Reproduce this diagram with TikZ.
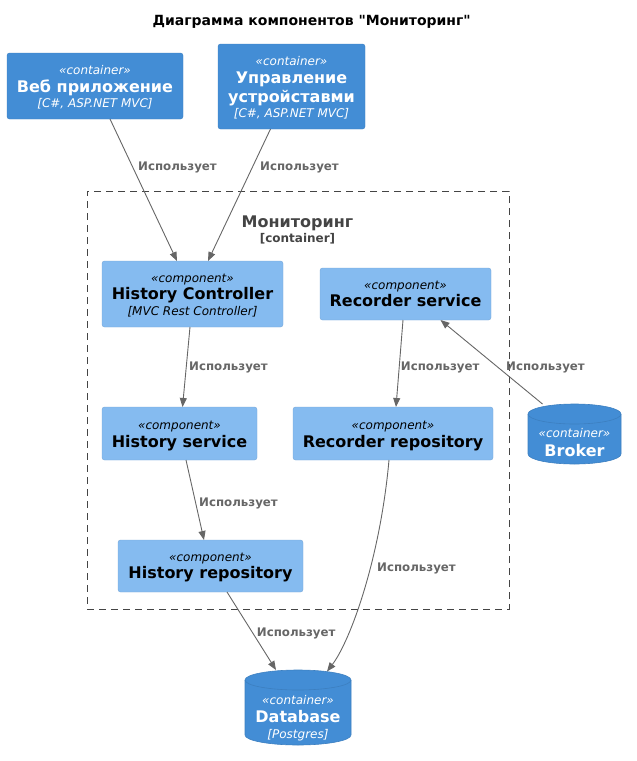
\documentclass[tikz,border=0pt]{standalone}
\usepackage{fontspec}
\setmainfont{DejaVu Sans}
\newfontfamily\plainsans{DejaVu Sans}
\usetikzlibrary{arrows.meta,calc}
\definecolor{contfill}{HTML}{438DD5}
\definecolor{contline}{HTML}{3C7FC0}
\definecolor{compfill}{HTML}{85BBF0}
\definecolor{compline}{HTML}{78A8D8}
\definecolor{arrowcol}{HTML}{666666}
\definecolor{bndcol}{HTML}{444444}
\begin{document}
\begin{tikzpicture}[x=1pt,y=1pt,
  container/.style={draw=contline, fill=contfill, rounded corners=2.5pt, inner sep=0pt, outer sep=0pt},
  component/.style={draw=compline, fill=compfill, rounded corners=2.5pt, inner sep=0pt, outer sep=0pt},
  cylbody/.style={inner sep=0pt, outer sep=0pt},
  stereo/.style={font=\fontsize{12}{14}\selectfont\itshape, inner sep=0pt, anchor=base},
  ttl/.style={font=\fontsize{16}{19}\selectfont\bfseries, inner sep=0pt, anchor=base},
  tech/.style={font=\fontsize{12}{14}\selectfont\itshape, inner sep=0pt, anchor=base},
  wt/.style={text=white},
  lbl/.style={font=\fontsize{11.8}{13}\selectfont\bfseries, text=arrowcol, inner sep=0pt, anchor=base west},
  rel/.style={draw=arrowcol, line width=0.9pt, -{Triangle[length=9pt,width=7pt]}}
]
\useasboundingbox (0,0) rectangle (637,-761);

% title
\node[font=\plainsans\fontsize{14}{16}\selectfont\bfseries, inner sep=0pt, anchor=base] (title) at (311.7,-25) {Диаграмма компонентов "Мониторинг"};

% boundary
\node[draw=bndcol, dash pattern=on 7pt off 5pt, line width=0.8pt, minimum width=422pt, minimum height=418pt, inner sep=0pt, outer sep=0pt] (bnd) at (298,-400) {};
\node[font=\fontsize{16}{18}\selectfont\bfseries, text=bndcol, inner sep=0pt, anchor=base] (bndname) at (297.5,-227.5) {Мониторинг};
\node[font=\fontsize{12}{14}\selectfont\bfseries, text=bndcol, inner sep=0pt, anchor=base] (bndtype) at (297.5,-242) {[container]};

% containers
\node[container, minimum width=176pt, minimum height=66pt] (web) at (95,-86) {};
\node[stereo, wt] (webs) at (95,-74) {«container»};
\node[ttl, wt] (webt) at (95,-92.2) {Веб приложение};
\node[tech, wt] (webx) at (95,-107) {[C\#, ASP.NET MVC]};

\node[container, minimum width=147pt, minimum height=85pt] (upr) at (291.5,-86.5) {};
\node[stereo, wt] (uprs) at (291.5,-65) {«container»};
\node[ttl, wt] (uprt1) at (291.5,-83.2) {Управление};
\node[ttl, wt] (uprt2) at (291.5,-102.2) {устройставми};
\node[tech, wt] (uprx) at (291.5,-117) {[C\#, ASP.NET MVC]};

% components
\node[component, minimum width=181pt, minimum height=66pt] (hc) at (192.5,-294) {};
\node[stereo] (hcs) at (192.5,-282) {«component»};
\node[ttl] (hct) at (192.5,-299.8) {History Controller};
\node[tech] (hcx) at (192.5,-315) {[MVC Rest Controller]};

\node[component, minimum width=171pt, minimum height=52pt] (rs) at (405.5,-294) {};
\node[stereo] (rss) at (405.5,-289.3) {«component»};
\node[ttl] (rst) at (405.5,-306.8) {Recorder service};

\node[component, minimum width=155pt, minimum height=53pt] (hs) at (179.5,-433.5) {};
\node[stereo] (hss) at (179.5,-429) {«component»};
\node[ttl] (hst) at (179.5,-447.2) {History service};

\node[component, minimum width=200pt, minimum height=53pt] (rr) at (393,-433.5) {};
\node[stereo] (rrs) at (393,-429) {«component»};
\node[ttl] (rrt) at (393,-447.2) {Recorder repository};

\node[component, minimum width=185pt, minimum height=52pt] (hr) at (210.5,-566) {};
\node[stereo] (hrs) at (210.5,-561.3) {«component»};
\node[ttl] (hrt) at (210.5,-578.8) {History repository};

% Broker cylinder
\node[cylbody, minimum width=93pt, minimum height=60pt] (broker) at (574.5,-434) {};
\path[fill=contfill, draw=contline, line width=0.6pt]
  ([yshift=-10pt]broker.north west) -- ([yshift=10pt]broker.south west)
  arc[start angle=180, end angle=360, x radius=46.5pt, y radius=10pt]
  -- ([yshift=-10pt]broker.north east)
  arc[start angle=0, end angle=180, x radius=46.5pt, y radius=10pt] -- cycle;
\draw[contline, line width=0.6pt] ([yshift=-10pt]broker.north west)
  arc[start angle=180, end angle=360, x radius=46.5pt, y radius=10pt];
\node[stereo, wt] (brs) at (574.5,-437) {«container»};
\node[ttl, wt] (brt) at (574.5,-456.5) {Broker};

% Database cylinder
\node[cylbody, minimum width=106pt, minimum height=75pt] (db) at (298,-707.5) {};
\path[fill=contfill, draw=contline, line width=0.6pt]
  ([yshift=-10pt]db.north west) -- ([yshift=10pt]db.south west)
  arc[start angle=180, end angle=360, x radius=53pt, y radius=10pt]
  -- ([yshift=-10pt]db.north east)
  arc[start angle=0, end angle=180, x radius=53pt, y radius=10pt] -- cycle;
\draw[contline, line width=0.6pt] ([yshift=-10pt]db.north west)
  arc[start angle=180, end angle=360, x radius=53pt, y radius=10pt];
\node[stereo, wt] (dbs) at (298,-704) {«container»};
\node[ttl, wt] (dbt) at (298,-722.5) {Database};
\node[tech, wt] (dbx) at (298,-738.3) {[Postgres]};

% relations
\draw[rel] ([xshift=15pt]web.south) -- ([xshift=-15.5pt]hc.north);
\node[lbl] (l1) at (138,-170.2) {Использует};
\draw[rel] ([xshift=-21pt]upr.south) -- ([xshift=15.5pt]hc.north);
\node[lbl] (l2) at (260,-170.2) {Использует};
\draw[rel] ([xshift=-2.5pt]hc.south) -- ([xshift=3pt]hs.north);
\node[lbl] (l3) at (189,-370) {Использует};
\draw[rel] ([xshift=6.5pt]hs.south) -- ([xshift=-6.5pt]hr.north);
\node[lbl] (l4) at (199,-506.5) {Использует};
\draw[rel] ([xshift=-2.5pt]rs.south) -- ([xshift=3pt]rr.north);
\node[lbl] (l5) at (400.7,-370) {Использует};
\draw[rel] ([xshift=-32pt]broker.north) -- ([xshift=35pt]rs.south);
\node[lbl] (l6) at (506,-370) {Использует};
\draw[rel] ([xshift=-4pt]rr.south) .. controls +(-9,-100) and +(23,30) .. ([xshift=29pt,yshift=-1.5pt]db.north);
\node[lbl] (l7) at (377,-571) {Использует};
\draw[rel] ([xshift=16.5pt]hr.south) -- ([xshift=-22pt]db.north);
\node[lbl] (l8) at (256.7,-636.7) {Использует};
\end{tikzpicture}
\end{document}
